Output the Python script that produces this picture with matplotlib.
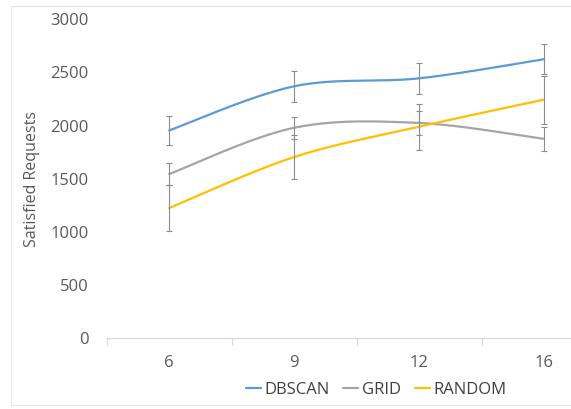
import numpy as np
import matplotlib.pyplot as plt
from matplotlib.patches import Rectangle

plt.rcParams['font.family'] = ['Open Sans', 'DejaVu Sans']

# users per scenario (category axis)
users = ['6', '9', '12', '16']

dbscan = [1955, 2370, 2445, 2625]
grid = [1545, 1980, 2025, 1875]
random_pl = [1225, 1705, 1990, 2245]

dbscan_err = [140, 145, 145, 140]
grid_err = [105, 105, 110, 110]
random_err = [220, 210, 215, 225]

series = [
    ('DBSCAN', dbscan, dbscan_err, '#5B9BD5'),
    ('GRID', grid, grid_err, '#A5A5A5'),
    ('RANDOM', random_pl, random_err, '#FFC000'),
]


def smooth(xs, ys, n=60):
    # cubic bezier through the points, catmull-rom style tangents
    xs = np.asarray(xs, float)
    ys = np.asarray(ys, float)
    px = np.concatenate([[xs[0]], xs, [xs[-1]]])
    py = np.concatenate([[ys[0]], ys, [ys[-1]]])
    out_x, out_y = [], []
    t = np.linspace(0, 1, n)
    for i in range(1, len(px) - 2):
        p0 = np.array([px[i], py[i]])
        p3 = np.array([px[i + 1], py[i + 1]])
        p1 = p0 + (np.array([px[i + 1], py[i + 1]]) - np.array([px[i - 1], py[i - 1]])) / 6
        p2 = p3 - (np.array([px[i + 2], py[i + 2]]) - np.array([px[i], py[i]])) / 6
        b = ((1 - t) ** 3)[:, None] * p0 + (3 * (1 - t) ** 2 * t)[:, None] * p1 \
            + (3 * (1 - t) * t ** 2)[:, None] * p2 + (t ** 3)[:, None] * p3
        out_x.extend(b[:, 0])
        out_y.extend(b[:, 1])
    return out_x, out_y


fig = plt.figure(figsize=(5.71, 4.09), dpi=100)
ax = fig.add_axes([106.7 / 571, 1 - 338.3 / 409, 500 / 571, 319 / 409])

x = np.arange(len(users))
for name, vals, err, color in series:
    sx, sy = smooth(x, vals)
    ax.plot(sx, sy, color=color, lw=1.6, label=name, solid_capstyle='round')
    ax.errorbar(x, vals, yerr=err, fmt='none', ecolor='#8c8c8c',
                elinewidth=0.8, capsize=2.5, capthick=0.8)

ax.set_xlim(-0.5, len(users) - 0.5)
ax.set_ylim(0, 3000)
ax.set_yticks(np.arange(0, 3001, 500))
ax.set_xticks(x)
ax.set_xticklabels(users)
ax.set_xticks(np.arange(-0.5, len(users)), minor=True)

for side in ['top', 'right', 'left']:
    ax.spines[side].set_visible(False)
ax.spines['bottom'].set_color('#d9d9d9')
ax.spines['bottom'].set_linewidth(0.9)

ax.tick_params(axis='y', length=0, pad=13, labelsize=12, labelcolor='#595959')
ax.tick_params(axis='x', which='major', length=0, pad=12, labelsize=12, labelcolor='#595959')
ax.tick_params(axis='x', which='minor', length=5, color='#d9d9d9', width=0.9)

fig.text(31.7 / 571, 1 - 179 / 409, 'Satisfied Requests', rotation=90,
         ha='center', va='center', fontsize=11.5, color='#595959')

fig.legend(loc='center', bbox_to_anchor=(376 / 571, 1 - 390 / 409), ncol=3,
           frameon=False, fontsize=12, handlelength=0.9, handletextpad=0.2,
           columnspacing=0.85, labelcolor='#404040')

# light chart-area border
fig.patches.append(Rectangle((11 / 571, 4 / 409), 1.0, 399 / 409,
                             transform=fig.transFigure, fill=False,
                             edgecolor='#e6e6e6', lw=0.8))

plt.savefig('out.png', dpi=100)
plt.close()
